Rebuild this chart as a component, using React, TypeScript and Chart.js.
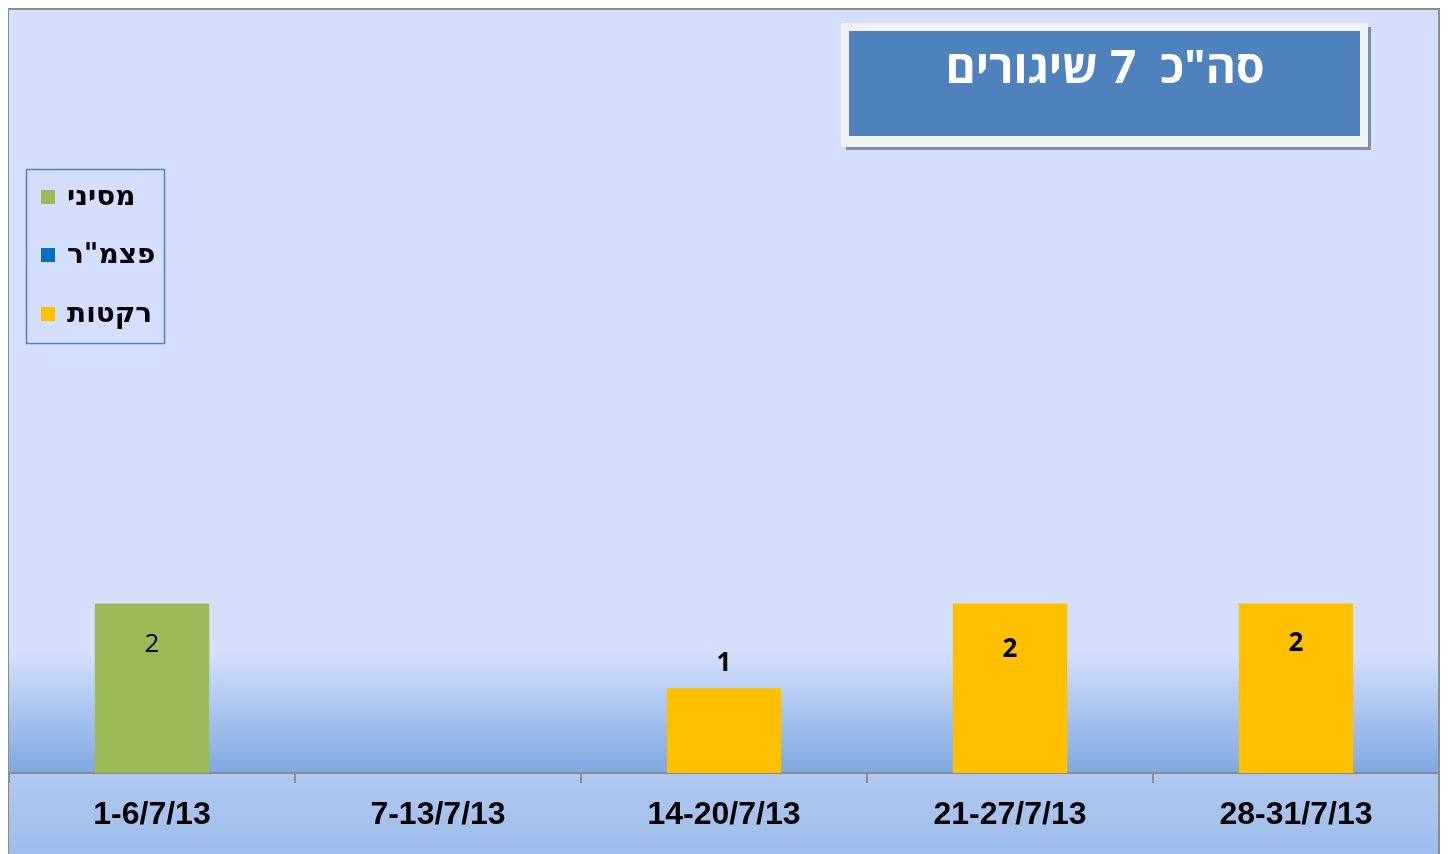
import React, { useEffect, useRef } from "react";
import { Chart, registerables } from "chart.js";

Chart.register(...registerables);

// ---- data ----
const categories = ["1-6/7/13", "7-13/7/13", "14-20/7/13", "21-27/7/13", "28-31/7/13"];
const seriesNames = ["מסיני", "פצמ\"ר", "רקטות"];
const sinaiValues: (number | null)[] = [2, null, null, null, null];
const mortarValues: (number | null)[] = [null, null, null, null, null];
const rocketValues: (number | null)[] = [null, null, 1, 2, 2];
const titleText = "סה\"כ  7 שיגורים";
const yMax = 9;

// ---- style ----
const seriesColors = ["#9bbb59", "#0070c0", "#ffc000"];
const seriesLabelBold = [false, false, true];
const valueLabelDy = [41, 0, -25, 46, 40];
const HEB = "'DejaVu Sans', 'Noto Sans Hebrew', sans-serif";
const NUM = "'Open Sans', 'DejaVu Sans', sans-serif";

const decorPlugin = {
  id: "decor",
  beforeDraw(chart: any) {
    const { ctx, width, height, chartArea } = chart;
    const axisY = chartArea.bottom;
    ctx.save();
    ctx.fillStyle = "#d4dffd";
    ctx.fillRect(0, 0, width, height);
    const g = ctx.createLinearGradient(0, axisY - 120, 0, axisY);
    g.addColorStop(0, "#d4dffd");
    g.addColorStop(1, "#7ea8e0");
    ctx.fillStyle = g;
    ctx.fillRect(0, axisY - 120, width, 120);
    const g2 = ctx.createLinearGradient(0, axisY, 0, height);
    g2.addColorStop(0, "#b0c8f1");
    g2.addColorStop(1, "#9ebde9");
    ctx.fillStyle = g2;
    ctx.fillRect(0, axisY, width, height - axisY);
    // outer border
    ctx.strokeStyle = "#8c8c8c";
    ctx.lineWidth = 2;
    ctx.beginPath();
    ctx.moveTo(0, height + 5);
    ctx.lineTo(0, 1);
    ctx.lineTo(width - 1, 1);
    ctx.lineTo(width - 1, height + 5);
    ctx.stroke();
    ctx.restore();
  },
  afterDatasetsDraw(chart: any) {
    const { ctx } = chart;
    ctx.save();
    // value labels
    chart.data.datasets.forEach((ds: any, di: number) => {
      const meta = chart.getDatasetMeta(di);
      meta.data.forEach((bar: any, i: number) => {
        const v = ds.data[i];
        if (v == null) return;
        ctx.font = `${seriesLabelBold[di] ? "bold " : ""}26px ${NUM}`;
        ctx.fillStyle = "#000";
        ctx.textAlign = "center";
        ctx.textBaseline = "middle";
        ctx.fillText(String(v), bar.x, bar.y + valueLabelDy[i]);
      });
    });
    // title box
    ctx.fillStyle = "#7b8db0";
    ctx.fillRect(838, 19, 525, 123);
    ctx.fillStyle = "#f2f2f2";
    ctx.fillRect(833, 15, 527, 124);
    ctx.fillStyle = "#4f81bd";
    ctx.fillRect(841, 23, 511, 105);
    ctx.fillStyle = "#ffffff";
    ctx.font = `bold 46px 'Open Sans', 'Noto Sans Hebrew', 'DejaVu Sans', sans-serif`;
    ctx.textAlign = "center";
    ctx.textBaseline = "middle";
    ctx.direction = "rtl";
    ctx.fillText(titleText, 1097, 62);
    ctx.direction = "ltr";
    // legend
    ctx.strokeStyle = "#4f81bd";
    ctx.lineWidth = 1.5;
    ctx.strokeRect(18.5, 161.5, 138, 174);
    const rowY = [189, 247, 306];
    chart.data.datasets.forEach((ds: any, di: number) => {
      ctx.fillStyle = ds.backgroundColor;
      ctx.fillRect(33, rowY[di] - 7, 14, 14);
      ctx.fillStyle = "#000";
      ctx.font = `bold 28px ${HEB}`;
      ctx.textAlign = "left";
      ctx.textBaseline = "middle";
      ctx.fillText(ds.label, 59, rowY[di] + 1);
    });
    ctx.restore();
  },
};

export default function App() {
  const ref = useRef<HTMLCanvasElement | null>(null);
  useEffect(() => {
    document.documentElement.style.overflow = "hidden";
    const canvas = ref.current!;
    const values = [sinaiValues, mortarValues, rocketValues];
    const chart = new Chart(canvas, {
      type: "bar",
      data: {
        labels: categories,
        datasets: seriesNames.map((name, i) => ({
          label: name,
          data: values[i],
          backgroundColor: seriesColors[i],
          borderWidth: 0,
          barPercentage: 0.4,
          categoryPercentage: 1,
        })),
      },
      options: {
        responsive: false,
        animation: false,
        layout: { padding: { left: 1, right: 1, top: 2, bottom: 0 } },
        plugins: { legend: { display: false }, tooltip: { enabled: false } },
        scales: {
          x: {
            stacked: true,
            grid: {
              drawOnChartArea: false,
              offset: true,
              tickLength: 10,
              color: "#8c8c8c",
              lineWidth: 2,
            },
            border: { color: "#8c8c8c", width: 2 },
            ticks: {
              color: "#000",
              font: { family: "'Liberation Sans', Arial, sans-serif", weight: "bold", size: 32 },
              padding: 13,
              maxRotation: 0,
              autoSkip: false,
            },
            afterFit: (s: any) => {
              s.height = 81;
            },
          },
          y: { stacked: true, display: false, min: 0, max: yMax },
        },
      } as any,
      plugins: [decorPlugin],
    });
    return () => chart.destroy();
  }, []);
  return <canvas ref={ref} width={1432} height={846} style={{ display: "block" }} />;
}
